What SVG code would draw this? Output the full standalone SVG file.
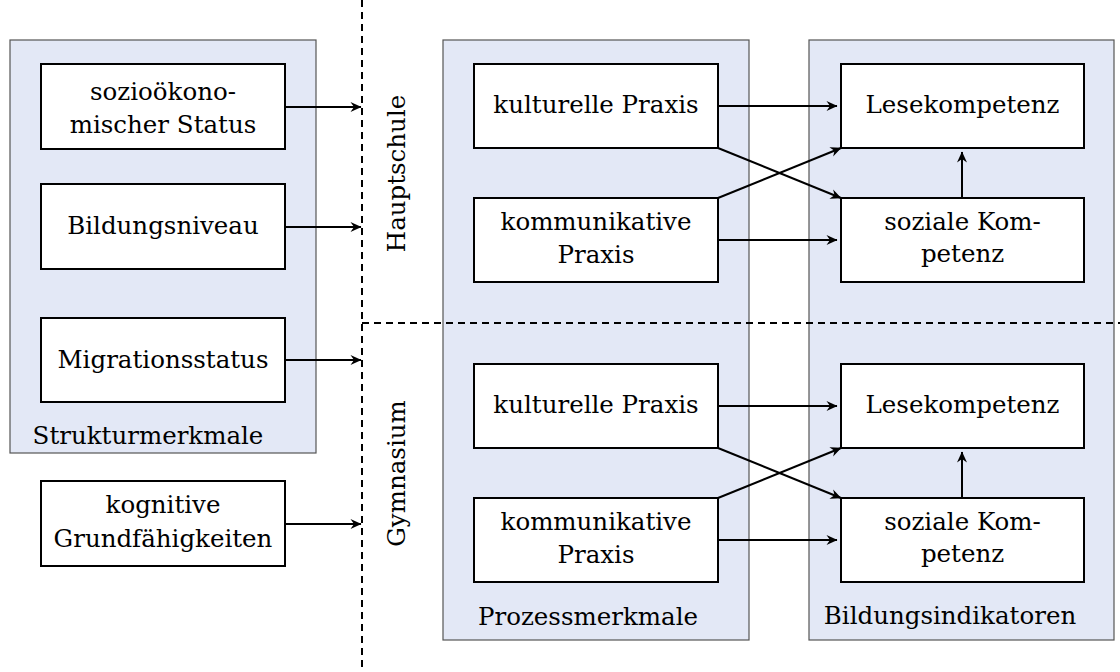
<svg xmlns="http://www.w3.org/2000/svg" width="1120" height="672" viewBox="0 0 1120 672">
  <style>
    text { font-family: "DejaVu Serif", "Liberation Serif", serif; font-size: 24.5px; fill: #000; }
    .c { text-anchor: middle; }
    .panel { fill: #e3e8f6; stroke: #555; stroke-width: 1.2; }
    .box { fill: #fff; stroke: #000; stroke-width: 2; }
    .edge { fill: none; stroke: #000; stroke-width: 2; marker-end: url(#arrow); }
    .sep { fill: none; stroke: #000; stroke-width: 2; stroke-dasharray: 7 5; }
  </style>
  <defs>
    <marker id="arrow" markerUnits="userSpaceOnUse" markerWidth="14" markerHeight="12" viewBox="-12 -6 14 12" refX="0" refY="0" orient="auto">
      <path d="M0.5,0 L-10.5,-5 L-7,0 L-10.5,5 Z" fill="#000"/>
    </marker>
  </defs>

  <!-- background panels -->
  <g id="panels">
    <g id="strukturmerkmale">
      <rect class="panel" x="10" y="40" width="306" height="413"/>
      <text class="c" x="148" y="444">Strukturmerkmale</text>
    </g>
    <g id="prozessmerkmale">
      <rect class="panel" x="443" y="40" width="306" height="600"/>
      <text class="c" x="588" y="625">Prozessmerkmale</text>
    </g>
    <g id="bildungsindikatoren">
      <rect class="panel" x="809" y="40" width="305" height="600"/>
      <text class="c" x="950" y="624">Bildungsindikatoren</text>
    </g>
  </g>

  <!-- school-type separators -->
  <g id="separators">
    <path class="sep" d="M362,0 V672"/>
    <path class="sep" d="M362,323 H1120"/>
    <text class="c" transform="translate(405,173.5) rotate(-90)">Hauptschule</text>
    <text class="c" transform="translate(405,473.5) rotate(-90)">Gymnasium</text>
  </g>

  <!-- left-hand nodes -->
  <g id="sozio">
    <rect class="box" x="41" y="64" width="244" height="85"/>
    <text class="c" x="163" y="100">sozioökono-</text>
    <text class="c" x="163" y="133">mischer Status</text>
  </g>
  <g id="bildungsniveau">
    <rect class="box" x="41" y="184" width="244" height="85"/>
    <text class="c" x="163" y="234">Bildungsniveau</text>
  </g>
  <g id="migration">
    <rect class="box" x="41" y="318" width="244" height="84"/>
    <text class="c" x="163" y="368">Migrationsstatus</text>
  </g>
  <g id="kognitiv">
    <rect class="box" x="41" y="481" width="244" height="85"/>
    <text class="c" x="163" y="513">kognitive</text>
    <text class="c" x="163" y="547">Grundfähigkeiten</text>
  </g>

  <!-- Hauptschule -->
  <g id="h-kultur">
    <rect class="box" x="474" y="64" width="244" height="84"/>
    <text class="c" x="596" y="113">kulturelle Praxis</text>
  </g>
  <g id="h-kommunikation">
    <rect class="box" x="474" y="198" width="244" height="84"/>
    <text class="c" x="596" y="230">kommunikative</text>
    <text class="c" x="596" y="263">Praxis</text>
  </g>
  <g id="h-lesen">
    <rect class="box" x="841" y="64" width="243" height="84"/>
    <text class="c" x="962.5" y="113">Lesekompetenz</text>
  </g>
  <g id="h-sozial">
    <rect class="box" x="841" y="198" width="243" height="84"/>
    <text class="c" x="962.5" y="230">soziale Kom-</text>
    <text class="c" x="962.5" y="262">petenz</text>
  </g>

  <!-- Gymnasium -->
  <g id="g-kultur">
    <rect class="box" x="474" y="364" width="244" height="84"/>
    <text class="c" x="596" y="413">kulturelle Praxis</text>
  </g>
  <g id="g-kommunikation">
    <rect class="box" x="474" y="498" width="244" height="84"/>
    <text class="c" x="596" y="530">kommunikative</text>
    <text class="c" x="596" y="563">Praxis</text>
  </g>
  <g id="g-lesen">
    <rect class="box" x="841" y="364" width="243" height="84"/>
    <text class="c" x="962.5" y="413">Lesekompetenz</text>
  </g>
  <g id="g-sozial">
    <rect class="box" x="841" y="498" width="243" height="84"/>
    <text class="c" x="962.5" y="530">soziale Kom-</text>
    <text class="c" x="962.5" y="562">petenz</text>
  </g>

  <!-- connectors -->
  <g id="connectors">
    <path class="edge" d="M285,107 H361"/>
    <path class="edge" d="M285,227 H361"/>
    <path class="edge" d="M285,360 H361"/>
    <path class="edge" d="M285,524 H361"/>

    <path class="edge" d="M718,106 H837"/>
    <path class="edge" d="M718,148 L841,198"/>
    <path class="edge" d="M718,198 L841,148"/>
    <path class="edge" d="M718,240 H837"/>
    <path class="edge" d="M962,198 V152"/>

    <path class="edge" d="M718,406 H837"/>
    <path class="edge" d="M718,448 L841,498"/>
    <path class="edge" d="M718,498 L841,448"/>
    <path class="edge" d="M718,540 H837"/>
    <path class="edge" d="M962,498 V452"/>
  </g>
</svg>
